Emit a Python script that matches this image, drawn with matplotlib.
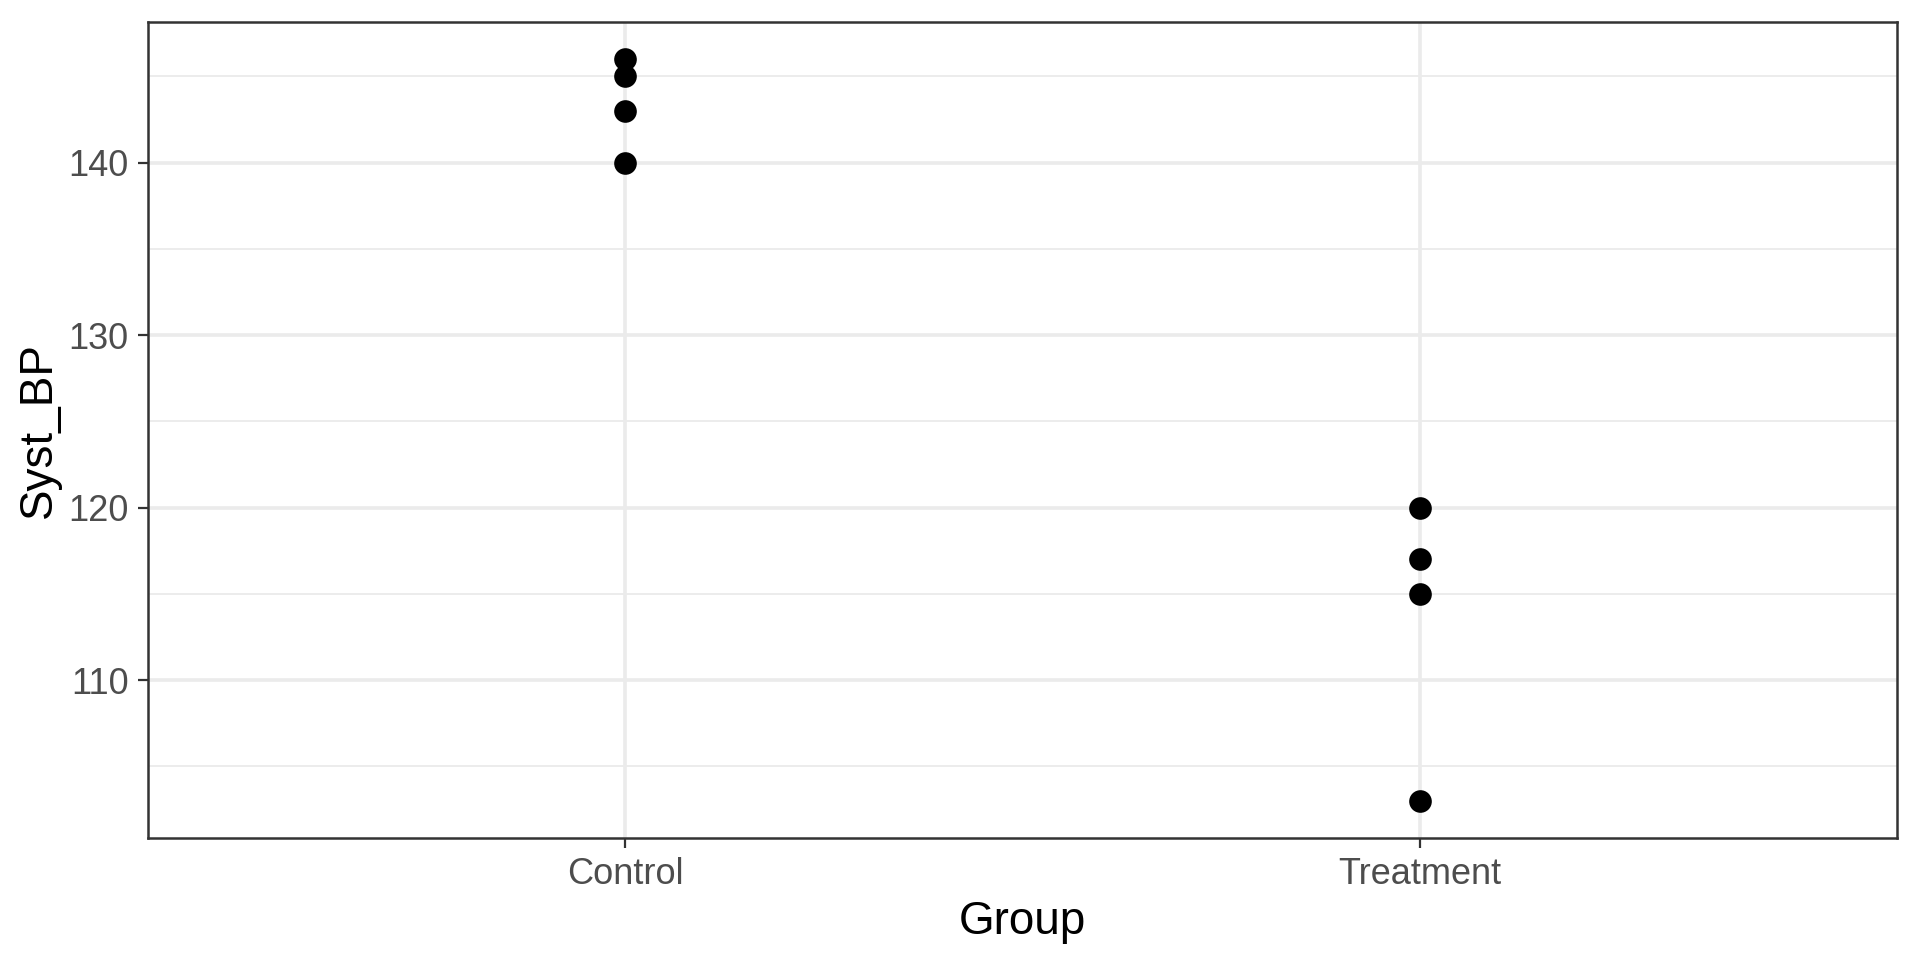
import matplotlib
matplotlib.use("Agg")
import matplotlib.pyplot as plt

# data
groups = ["Control", "Treatment"]
control_bp = [146, 145, 143, 140]
treatment_bp = [120, 117, 115, 103]

plt.rcParams["font.family"] = ["Liberation Sans", "DejaVu Sans"]

fig = plt.figure(figsize=(19.2, 9.6), dpi=100)
ax = fig.add_axes([148 / 1920, 1 - 838 / 960, 1749 / 1920, 816 / 960])

xs = [0] * len(control_bp) + [1] * len(treatment_bp)
ys = control_bp + treatment_bp
ax.plot(xs, ys, "o", color="black", markersize=16.3, markeredgewidth=0, zorder=3)

# ggplot style expansion
allv = control_bp + treatment_bp
lo, hi = min(allv), max(allv)
pad = (hi - lo) * 0.05
ax.set_ylim(lo - pad, hi + pad)
ax.set_xlim(-0.6, 1.6)

ax.set_xticks([0, 1])
ax.set_xticklabels(groups)
ax.set_yticks([110, 120, 130, 140])
ax.set_yticks([105, 115, 125, 135, 145], minor=True)

ax.grid(True, which="major", color="#EBEBEB", linewidth=2.6, zorder=0)
ax.grid(True, which="minor", axis="y", color="#EBEBEB", linewidth=1.3, zorder=0)
ax.set_axisbelow(True)

for s in ax.spines.values():
    s.set_color("#333333")
    s.set_linewidth(1.8)
    s.set_zorder(4)

ax.tick_params(which="major", length=7, width=1.6, color="#333333",
               labelsize=26, labelcolor="#4D4D4D", pad=7)
ax.tick_params(which="minor", length=0)

ax.set_xlabel("Group", fontsize=33, color="black")
ax.set_ylabel("Syst_BP", fontsize=33, color="black")
ax.xaxis.set_label_coords(0.5, (838 - 900) / 816)
ax.yaxis.set_label_coords((61 - 148) / 1749, 0.5)

fig.savefig("out.png", dpi=100)
